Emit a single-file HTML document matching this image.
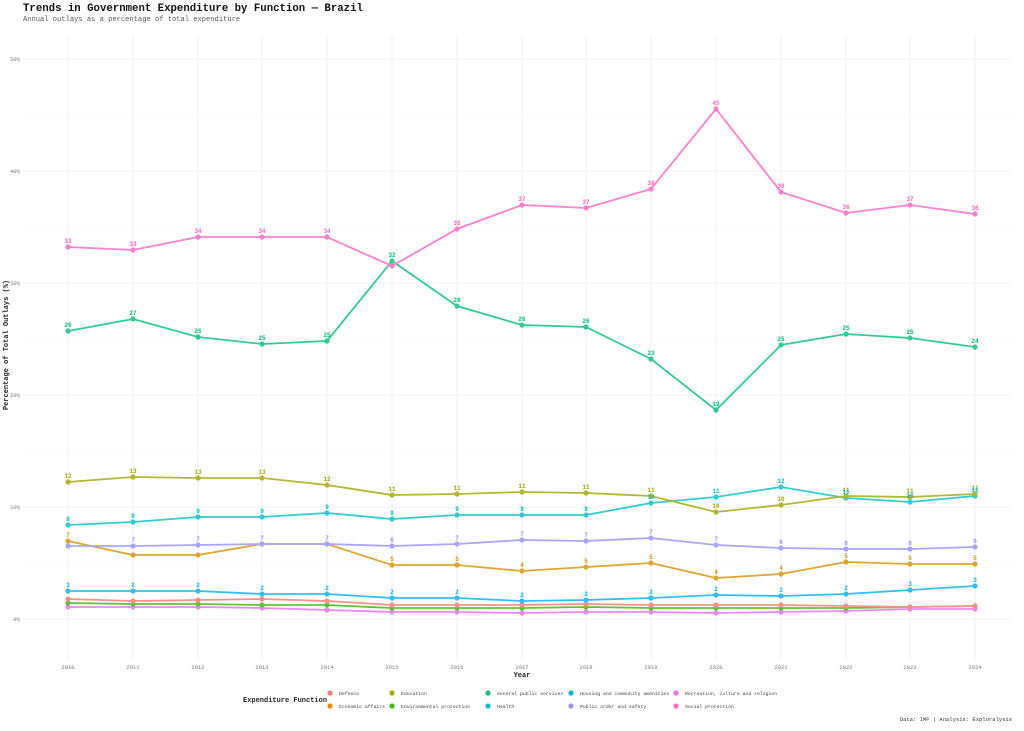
<!DOCTYPE html>
<html><head><meta charset="utf-8"><style>
body{margin:0;background:#fff;width:1024px;height:726px;overflow:hidden}
svg{font-family:"Liberation Mono",monospace}
</style></head><body>
<svg width="1024" height="726" xmlns="http://www.w3.org/2000/svg">
<text x="23" y="11" font-size="10.7" font-weight="bold" fill="#111">Trends in Government Expenditure by Function — Brazil</text>
<text x="23" y="21" font-size="7.1" fill="#555">Annual outlays as a percentage of total expenditure</text>
<g stroke="#ebebeb" stroke-width="0.8">
<line x1="23" x2="1012" y1="59" y2="59"/><line x1="23" x2="1012" y1="171" y2="171"/><line x1="23" x2="1012" y1="283" y2="283"/><line x1="23" x2="1012" y1="395" y2="395"/><line x1="23" x2="1012" y1="507" y2="507"/><line x1="23" x2="1012" y1="619" y2="619"/>
<g stroke="#f6f6f6"><line x1="23" x2="1012" y1="115" y2="115"/><line x1="23" x2="1012" y1="227" y2="227"/><line x1="23" x2="1012" y1="339" y2="339"/><line x1="23" x2="1012" y1="451" y2="451"/><line x1="23" x2="1012" y1="563" y2="563"/></g>
<line x1="68" x2="68" y1="35" y2="660"/><line x1="133" x2="133" y1="35" y2="660"/><line x1="198" x2="198" y1="35" y2="660"/><line x1="262" x2="262" y1="35" y2="660"/><line x1="327" x2="327" y1="35" y2="660"/><line x1="392" x2="392" y1="35" y2="660"/><line x1="457" x2="457" y1="35" y2="660"/><line x1="522" x2="522" y1="35" y2="660"/><line x1="586" x2="586" y1="35" y2="660"/><line x1="651" x2="651" y1="35" y2="660"/><line x1="716" x2="716" y1="35" y2="660"/><line x1="781" x2="781" y1="35" y2="660"/><line x1="846" x2="846" y1="35" y2="660"/><line x1="910" x2="910" y1="35" y2="660"/><line x1="975" x2="975" y1="35" y2="660"/>
</g>
<g font-size="5.5" fill="#777" text-anchor="end">
<text x="20" y="61">50%</text><text x="20" y="173">40%</text><text x="20" y="285">30%</text><text x="20" y="397">20%</text><text x="20" y="509">10%</text><text x="20" y="621">0%</text>
</g>
<g font-size="5.5" fill="#777" text-anchor="middle">
<text x="68" y="669">2010</text><text x="133" y="669">2011</text><text x="198" y="669">2012</text><text x="262" y="669">2013</text><text x="327" y="669">2014</text><text x="392" y="669">2015</text><text x="457" y="669">2016</text><text x="522" y="669">2017</text><text x="586" y="669">2018</text><text x="651" y="669">2019</text><text x="716" y="669">2020</text><text x="781" y="669">2021</text><text x="846" y="669">2022</text><text x="910" y="669">2023</text><text x="975" y="669">2024</text>
</g>
<text x="522" y="677" font-size="7" font-weight="bold" text-anchor="middle" fill="#222">Year</text>
<text transform="translate(8,345) rotate(-90)" font-size="7" font-weight="bold" text-anchor="middle" fill="#222">Percentage of Total Outlays (%)</text>

<g opacity="0.8">
<g fill="none" stroke-width="1.8">
<polyline stroke="#E76BF3" points="68,607 133,607 198,607 262,608 327,610 392,612 457,612 522,613 586,612 651,612 716,613 781,612 846,611 910,609 975,609"/>
<polyline stroke="#39B600" points="68,603 133,604 198,604 262,605 327,605 392,608 457,608 522,608 586,607 651,608 716,608 781,608 846,608 910,607 975,606"/>
<polyline stroke="#F8766D" points="68,599 133,601 198,600 262,599 327,601 392,605 457,605 522,605 586,604 651,605 716,605 781,605 846,606 910,607 975,606"/>
<polyline stroke="#00B0F6" points="68,591 133,591 198,591 262,594 327,594 392,598 457,598 522,601 586,600 651,598 716,595 781,596 846,594 910,590 975,586"/>
<polyline stroke="#D89000" points="68,541 133,555 198,555 262,544 327,544 392,565 457,565 522,571 586,567 651,563 716,578 781,574 846,562 910,564 975,564"/>
<polyline stroke="#9590FF" points="68,546 133,546 198,545 262,544 327,544 392,546 457,544 522,540 586,541 651,538 716,545 781,548 846,549 910,549 975,547"/>
<polyline stroke="#00BFC4" points="68,525 133,522 198,517 262,517 327,513 392,519 457,515 522,515 586,515 651,503 716,497 781,487 846,498 910,502 975,496"/>
<polyline stroke="#A3A500" points="68,482 133,477 198,478 262,478 327,485 392,495 457,494 522,492 586,493 651,496 716,512 781,505 846,496 910,497 975,494"/>
<polyline stroke="#00BF7D" points="68,331 133,319 198,337 262,344 327,341 392,261 457,306 522,325 586,327 651,359 716,410 781,345 846,334 910,338 975,347"/>
<polyline stroke="#FF61C3" points="68,247 133,250 198,237 262,237 327,237 392,266 457,229 522,205 586,208 651,189 716,109 781,192 846,213 910,205 975,214"/>
</g>
<g fill="#E76BF3"><circle cx="68" cy="607" r="2.6"/><circle cx="133" cy="607" r="2.6"/><circle cx="198" cy="607" r="2.6"/><circle cx="262" cy="608" r="2.6"/><circle cx="327" cy="610" r="2.6"/><circle cx="392" cy="612" r="2.6"/><circle cx="457" cy="612" r="2.6"/><circle cx="522" cy="613" r="2.6"/><circle cx="586" cy="612" r="2.6"/><circle cx="651" cy="612" r="2.6"/><circle cx="716" cy="613" r="2.6"/><circle cx="781" cy="612" r="2.6"/><circle cx="846" cy="611" r="2.6"/><circle cx="910" cy="609" r="2.6"/><circle cx="975" cy="609" r="2.6"/></g>
<g fill="#39B600"><circle cx="68" cy="603" r="2.6"/><circle cx="133" cy="604" r="2.6"/><circle cx="198" cy="604" r="2.6"/><circle cx="262" cy="605" r="2.6"/><circle cx="327" cy="605" r="2.6"/><circle cx="392" cy="608" r="2.6"/><circle cx="457" cy="608" r="2.6"/><circle cx="522" cy="608" r="2.6"/><circle cx="586" cy="607" r="2.6"/><circle cx="651" cy="608" r="2.6"/><circle cx="716" cy="608" r="2.6"/><circle cx="781" cy="608" r="2.6"/><circle cx="846" cy="608" r="2.6"/><circle cx="910" cy="607" r="2.6"/><circle cx="975" cy="606" r="2.6"/></g>
<g fill="#F8766D"><circle cx="68" cy="599" r="2.6"/><circle cx="133" cy="601" r="2.6"/><circle cx="198" cy="600" r="2.6"/><circle cx="262" cy="599" r="2.6"/><circle cx="327" cy="601" r="2.6"/><circle cx="392" cy="605" r="2.6"/><circle cx="457" cy="605" r="2.6"/><circle cx="522" cy="605" r="2.6"/><circle cx="586" cy="604" r="2.6"/><circle cx="651" cy="605" r="2.6"/><circle cx="716" cy="605" r="2.6"/><circle cx="781" cy="605" r="2.6"/><circle cx="846" cy="606" r="2.6"/><circle cx="910" cy="607" r="2.6"/><circle cx="975" cy="606" r="2.6"/></g>
<g fill="#00B0F6"><circle cx="68" cy="591" r="2.6"/><circle cx="133" cy="591" r="2.6"/><circle cx="198" cy="591" r="2.6"/><circle cx="262" cy="594" r="2.6"/><circle cx="327" cy="594" r="2.6"/><circle cx="392" cy="598" r="2.6"/><circle cx="457" cy="598" r="2.6"/><circle cx="522" cy="601" r="2.6"/><circle cx="586" cy="600" r="2.6"/><circle cx="651" cy="598" r="2.6"/><circle cx="716" cy="595" r="2.6"/><circle cx="781" cy="596" r="2.6"/><circle cx="846" cy="594" r="2.6"/><circle cx="910" cy="590" r="2.6"/><circle cx="975" cy="586" r="2.6"/></g>
<g fill="#D89000"><circle cx="68" cy="541" r="2.6"/><circle cx="133" cy="555" r="2.6"/><circle cx="198" cy="555" r="2.6"/><circle cx="262" cy="544" r="2.6"/><circle cx="327" cy="544" r="2.6"/><circle cx="392" cy="565" r="2.6"/><circle cx="457" cy="565" r="2.6"/><circle cx="522" cy="571" r="2.6"/><circle cx="586" cy="567" r="2.6"/><circle cx="651" cy="563" r="2.6"/><circle cx="716" cy="578" r="2.6"/><circle cx="781" cy="574" r="2.6"/><circle cx="846" cy="562" r="2.6"/><circle cx="910" cy="564" r="2.6"/><circle cx="975" cy="564" r="2.6"/></g>
<g fill="#9590FF"><circle cx="68" cy="546" r="2.6"/><circle cx="133" cy="546" r="2.6"/><circle cx="198" cy="545" r="2.6"/><circle cx="262" cy="544" r="2.6"/><circle cx="327" cy="544" r="2.6"/><circle cx="392" cy="546" r="2.6"/><circle cx="457" cy="544" r="2.6"/><circle cx="522" cy="540" r="2.6"/><circle cx="586" cy="541" r="2.6"/><circle cx="651" cy="538" r="2.6"/><circle cx="716" cy="545" r="2.6"/><circle cx="781" cy="548" r="2.6"/><circle cx="846" cy="549" r="2.6"/><circle cx="910" cy="549" r="2.6"/><circle cx="975" cy="547" r="2.6"/></g>
<g fill="#00BFC4"><circle cx="68" cy="525" r="2.6"/><circle cx="133" cy="522" r="2.6"/><circle cx="198" cy="517" r="2.6"/><circle cx="262" cy="517" r="2.6"/><circle cx="327" cy="513" r="2.6"/><circle cx="392" cy="519" r="2.6"/><circle cx="457" cy="515" r="2.6"/><circle cx="522" cy="515" r="2.6"/><circle cx="586" cy="515" r="2.6"/><circle cx="651" cy="503" r="2.6"/><circle cx="716" cy="497" r="2.6"/><circle cx="781" cy="487" r="2.6"/><circle cx="846" cy="498" r="2.6"/><circle cx="910" cy="502" r="2.6"/><circle cx="975" cy="496" r="2.6"/></g>
<g fill="#A3A500"><circle cx="68" cy="482" r="2.6"/><circle cx="133" cy="477" r="2.6"/><circle cx="198" cy="478" r="2.6"/><circle cx="262" cy="478" r="2.6"/><circle cx="327" cy="485" r="2.6"/><circle cx="392" cy="495" r="2.6"/><circle cx="457" cy="494" r="2.6"/><circle cx="522" cy="492" r="2.6"/><circle cx="586" cy="493" r="2.6"/><circle cx="651" cy="496" r="2.6"/><circle cx="716" cy="512" r="2.6"/><circle cx="781" cy="505" r="2.6"/><circle cx="846" cy="496" r="2.6"/><circle cx="910" cy="497" r="2.6"/><circle cx="975" cy="494" r="2.6"/></g>
<g fill="#00BF7D"><circle cx="68" cy="331" r="2.6"/><circle cx="133" cy="319" r="2.6"/><circle cx="198" cy="337" r="2.6"/><circle cx="262" cy="344" r="2.6"/><circle cx="327" cy="341" r="2.6"/><circle cx="392" cy="261" r="2.6"/><circle cx="457" cy="306" r="2.6"/><circle cx="522" cy="325" r="2.6"/><circle cx="586" cy="327" r="2.6"/><circle cx="651" cy="359" r="2.6"/><circle cx="716" cy="410" r="2.6"/><circle cx="781" cy="345" r="2.6"/><circle cx="846" cy="334" r="2.6"/><circle cx="910" cy="338" r="2.6"/><circle cx="975" cy="347" r="2.6"/></g>
<g fill="#FF61C3"><circle cx="68" cy="247" r="2.6"/><circle cx="133" cy="250" r="2.6"/><circle cx="198" cy="237" r="2.6"/><circle cx="262" cy="237" r="2.6"/><circle cx="327" cy="237" r="2.6"/><circle cx="392" cy="266" r="2.6"/><circle cx="457" cy="229" r="2.6"/><circle cx="522" cy="205" r="2.6"/><circle cx="586" cy="208" r="2.6"/><circle cx="651" cy="189" r="2.6"/><circle cx="716" cy="109" r="2.6"/><circle cx="781" cy="192" r="2.6"/><circle cx="846" cy="213" r="2.6"/><circle cx="910" cy="205" r="2.6"/><circle cx="975" cy="214" r="2.6"/></g>
</g>
<g font-size="6" font-weight="bold" text-anchor="middle">
<g fill="#FF61C3"><text x="68" y="243">33</text><text x="133" y="246">33</text><text x="198" y="233">34</text><text x="262" y="233">34</text><text x="327" y="233">34</text><text x="457" y="225">35</text><text x="522" y="201">37</text><text x="586" y="204">37</text><text x="651" y="185">38</text><text x="716" y="105">45</text><text x="781" y="188">38</text><text x="846" y="209">36</text><text x="910" y="201">37</text><text x="975" y="210">36</text></g>
<g fill="#00BF7D"><text x="68" y="327">26</text><text x="133" y="315">27</text><text x="198" y="333">25</text><text x="262" y="340">25</text><text x="327" y="337">25</text><text x="392" y="257">32</text><text x="457" y="302">28</text><text x="522" y="321">26</text><text x="586" y="323">26</text><text x="651" y="355">23</text><text x="716" y="406">19</text><text x="781" y="341">25</text><text x="846" y="330">25</text><text x="910" y="334">25</text><text x="975" y="343">24</text></g>
<g fill="#A3A500"><text x="68" y="478">12</text><text x="133" y="473">13</text><text x="198" y="474">13</text><text x="262" y="474">13</text><text x="327" y="481">12</text><text x="392" y="491">11</text><text x="457" y="490">11</text><text x="522" y="488">11</text><text x="586" y="489">11</text><text x="651" y="492">11</text><text x="716" y="508">10</text><text x="781" y="501">10</text><text x="846" y="492">11</text><text x="910" y="493">11</text><text x="975" y="490">11</text></g>
<g fill="#00BFC4"><text x="68" y="521">8</text><text x="133" y="518">9</text><text x="198" y="513">9</text><text x="262" y="513">9</text><text x="327" y="509">9</text><text x="392" y="515">9</text><text x="457" y="511">9</text><text x="522" y="511">9</text><text x="586" y="511">9</text><text x="651" y="499">10</text><text x="716" y="493">11</text><text x="781" y="483">12</text><text x="846" y="494">11</text><text x="910" y="498">10</text><text x="975" y="492">11</text></g>
<g fill="#9590FF"><text x="133" y="542">7</text><text x="198" y="541">7</text><text x="262" y="540">7</text><text x="327" y="540">7</text><text x="392" y="542">6</text><text x="457" y="540">7</text><text x="522" y="536">7</text><text x="586" y="537">7</text><text x="651" y="534">7</text><text x="716" y="541">7</text><text x="781" y="544">6</text><text x="846" y="545">6</text><text x="910" y="545">6</text><text x="975" y="543">6</text></g>
<g fill="#D89000"><text x="68" y="537">7</text><text x="392" y="561">5</text><text x="457" y="561">5</text><text x="522" y="567">4</text><text x="586" y="563">5</text><text x="651" y="559">5</text><text x="716" y="574">4</text><text x="781" y="570">4</text><text x="846" y="558">5</text><text x="910" y="560">5</text><text x="975" y="560">5</text></g>
<g fill="#00B0F6"><text x="68" y="587">3</text><text x="133" y="587">2</text><text x="198" y="587">2</text><text x="262" y="590">2</text><text x="327" y="590">2</text><text x="392" y="594">2</text><text x="457" y="594">2</text><text x="522" y="597">2</text><text x="586" y="596">2</text><text x="651" y="594">2</text><text x="716" y="591">2</text><text x="781" y="592">2</text><text x="846" y="590">2</text><text x="910" y="586">3</text><text x="975" y="582">3</text></g>
</g>
<text x="243" y="702" font-size="7" font-weight="bold" fill="#222">Expenditure Function</text>
<g font-size="4.8" fill="#333" opacity="0.95">
<circle cx="330" cy="693" r="2.6" fill="#F8766D"/><text x="339" y="695">Defence</text>
<circle cx="392" cy="693" r="2.6" fill="#A3A500"/><text x="401" y="695">Education</text>
<circle cx="488" cy="693" r="2.6" fill="#00BF7D"/><text x="497" y="695">General public services</text>
<circle cx="571" cy="693" r="2.6" fill="#00B0F6"/><text x="580" y="695">Housing and community amenities</text>
<circle cx="676" cy="693" r="2.6" fill="#E76BF3"/><text x="685" y="695">Recreation, culture and religion</text>
<circle cx="330" cy="706" r="2.6" fill="#D89000"/><text x="339" y="708">Economic affairs</text>
<circle cx="392" cy="706" r="2.6" fill="#39B600"/><text x="401" y="708">Environmental protection</text>
<circle cx="488" cy="706" r="2.6" fill="#00BFC4"/><text x="497" y="708">Health</text>
<circle cx="571" cy="706" r="2.6" fill="#9590FF"/><text x="580" y="708">Public order and safety</text>
<circle cx="676" cy="706" r="2.6" fill="#FF61C3"/><text x="685" y="708">Social protection</text>
</g>
<text x="1012" y="721" font-size="5.5" fill="#333" text-anchor="end">Data: IMF | Analysis: Exploralysis</text>
</svg>
</body></html>
